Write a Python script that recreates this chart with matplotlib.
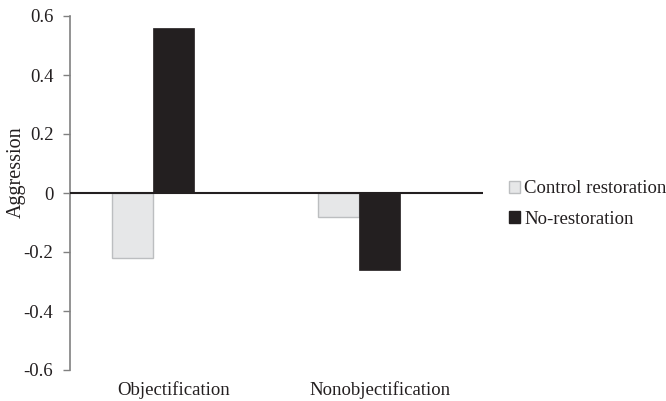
import matplotlib
matplotlib.use("Agg")
import matplotlib.pyplot as plt
from matplotlib.patches import Patch
import numpy as np

categories = ["Objectification", "Nonobjectification"]
series_names = ["Control restoration", "No-restoration"]
control_vals = [-0.22, -0.08]
norest_vals = [0.56, -0.26]
yticks = [-0.6, -0.4, -0.2, 0, 0.2, 0.4, 0.6]
ytick_labels = ["-0.6", "-0.4", "-0.2", "0", "0.2", "0.4", "0.6"]

plt.rcParams['font.family'] = ['Liberation Serif', 'DejaVu Serif']
txt = "#231f20"
fs = 13.5

W, H = 666, 401
fig = plt.figure(figsize=(W/100, H/100), dpi=100)
ax = fig.add_axes([70/W, 1-370/H, 413/W, 354/H])

x = np.arange(len(categories))
bw = 0.198
ax.bar(x - 0.198, control_vals, width=bw, align='center', color="#e6e7e8",
       edgecolor="#bcbec0", linewidth=1.0, zorder=2)
ax.bar(x, norest_vals, width=bw, align='center', color="#231f20",
       edgecolor="#231f20", linewidth=0.5, zorder=2)

ax.axhline(0, color="#231f20", linewidth=1.5, zorder=3)

ax.set_xlim(-0.5, 1.5)
ax.set_ylim(-0.6, 0.6)
ax.set_yticks(yticks)
ax.set_yticklabels(ytick_labels, fontsize=fs, color=txt)
ax.set_xticks(x)
ax.set_xticklabels(categories, fontsize=fs, color=txt)
ax.tick_params(axis='x', length=0, pad=8)
ax.tick_params(axis='y', length=5, width=1, color="#808080", pad=7, direction='out')

for s in ['top', 'right', 'bottom']:
    ax.spines[s].set_visible(False)
ax.spines['left'].set_color("#808080")
ax.spines['left'].set_linewidth(1.2)

ax.set_ylabel("Aggression", fontsize=14.5, color=txt)
ax.yaxis.set_label_coords(-0.108, 0.56)

handles = [Patch(facecolor="#e6e7e8", edgecolor="#bcbec0", linewidth=1.0),
           Patch(facecolor="#231f20", edgecolor="#231f20")]
leg = fig.legend(handles, series_names, loc='center left',
                 bbox_to_anchor=(509/W, 1-204/H), frameon=False,
                 fontsize=fs, handlelength=0.6, handleheight=0.6,
                 handletextpad=0.2, labelspacing=0.7, borderpad=0,
                 borderaxespad=0)
for t in leg.get_texts():
    t.set_color(txt)

fig.savefig("out.png", dpi=100)
